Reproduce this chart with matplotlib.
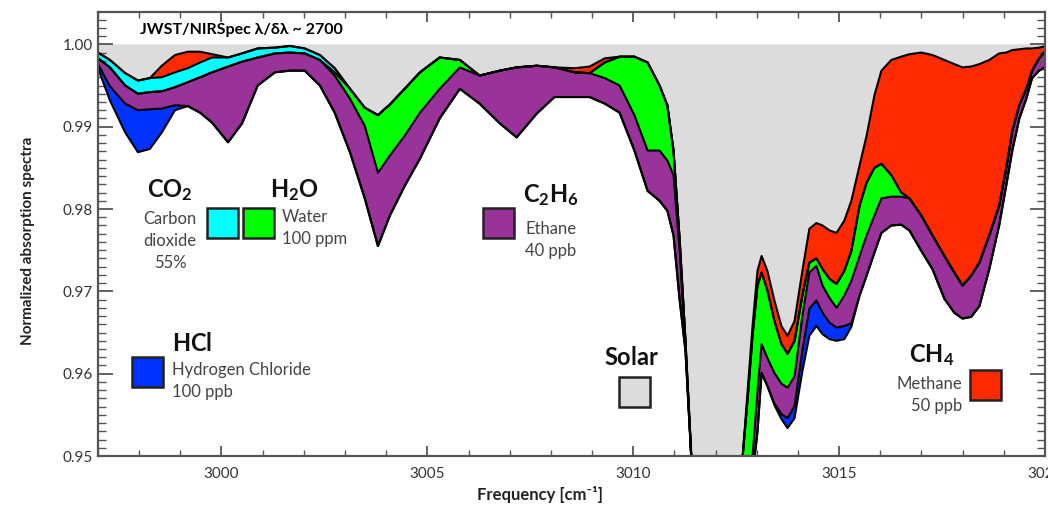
import matplotlib
matplotlib.use('Agg')
import matplotlib.pyplot as plt
from matplotlib.patches import Rectangle
from matplotlib.ticker import MultipleLocator

plt.rcParams['font.family'] = ['Lato', 'DejaVu Sans']
plt.rcParams['mathtext.fontset'] = 'custom'
plt.rcParams['mathtext.rm'] = 'Lato'
plt.rcParams['mathtext.bf'] = 'Lato:bold'

# frequency grid [cm^-1]
freq = [2997.00, 2997.29, 2997.66, 2997.97, 2998.26, 2998.55, 2998.87, 2999.18, 2999.48, 2999.77,
        3000.16, 3000.50, 3000.88, 3001.30, 3001.66, 3002.02, 3002.39, 3002.75, 3003.12, 3003.48,
        3003.80, 3004.09, 3004.45, 3004.82, 3005.30, 3005.79, 3006.27, 3006.76, 3007.17, 3007.66,
        3008.09, 3008.58, 3008.94, 3009.31, 3009.67, 3010.03, 3010.35, 3010.64, 3010.83, 3010.98,
        3011.13, 3011.27, 3011.42, 3011.61, 3012.10, 3012.53, 3012.66, 3012.78, 3012.90, 3013.02,
        3013.12, 3013.26, 3013.43, 3013.60, 3013.75, 3013.92, 3014.11, 3014.28, 3014.45, 3014.60,
        3014.77, 3014.94, 3015.13, 3015.30, 3015.50, 3015.67, 3015.86, 3016.03, 3016.27, 3016.51,
        3016.71, 3017.00, 3017.27, 3017.56, 3017.80, 3018.00, 3018.21, 3018.41, 3018.65, 3018.89,
        3019.06, 3019.21, 3019.38, 3019.55, 3019.69, 3019.86, 3020.03]

# cumulative spectrum levels (solar, then after each molecule is added)
lvl_solar = [0.9990, 0.9981, 0.9965, 0.9956, 0.9959, 0.9974, 0.9987, 0.9991, 0.9991, 0.9988,
             0.9984, 0.9989, 0.9995, 0.9996, 0.9998, 0.9995, 0.9987, 0.9971, 0.9946, 0.9923,
             0.9914, 0.9927, 0.9946, 0.9966, 0.9984, 0.9981, 0.9962, 0.9968, 0.9972, 0.9974,
             0.9972, 0.9971, 0.9973, 0.9983, 0.9985, 0.9985, 0.9978, 0.9950, 0.9926, 0.9871,
             0.9762, 0.9640, 0.9494, 0.9350, 0.9300, 0.9350, 0.9500, 0.9579, 0.9658, 0.9725,
             0.9743, 0.9725, 0.9689, 0.9658, 0.9646, 0.9664, 0.9725, 0.9776, 0.9783, 0.9780,
             0.9774, 0.9771, 0.9786, 0.9810, 0.9853, 0.9889, 0.9938, 0.9968, 0.9981, 0.9985,
             0.9988, 0.9990, 0.9987, 0.9981, 0.9976, 0.9972, 0.9973, 0.9976, 0.9981, 0.9989,
             0.9990, 0.9993, 0.9994, 0.9995, 0.9995, 0.9996, 0.9998]

lvl_ch4 = [0.9990, 0.9981, 0.9965, 0.9956, 0.9959, 0.9960, 0.9966, 0.9971, 0.9978, 0.9984,
           0.9984, 0.9989, 0.9995, 0.9996, 0.9998, 0.9995, 0.9987, 0.9971, 0.9946, 0.9923,
           0.9914, 0.9927, 0.9946, 0.9966, 0.9984, 0.9981, 0.9962, 0.9968, 0.9972, 0.9974,
           0.9972, 0.9966, 0.9965, 0.9978, 0.9985, 0.9985, 0.9978, 0.9950, 0.9926, 0.9871,
           0.9762, 0.9640, 0.9490, 0.9350, 0.9300, 0.9350, 0.9500, 0.9569, 0.9646, 0.9707,
           0.9723, 0.9701, 0.9664, 0.9636, 0.9624, 0.9640, 0.9695, 0.9735, 0.9740, 0.9727,
           0.9715, 0.9709, 0.9725, 0.9749, 0.9804, 0.9832, 0.9850, 0.9855, 0.9841, 0.9820,
           0.9813, 0.9792, 0.9768, 0.9743, 0.9723, 0.9707, 0.9719, 0.9735, 0.9768, 0.9804,
           0.9849, 0.9895, 0.9926, 0.9946, 0.9968, 0.9983, 0.9993]

lvl_co2 = [0.9983, 0.9972, 0.9950, 0.9940, 0.9942, 0.9943, 0.9948, 0.9954, 0.9960, 0.9966,
           0.9973, 0.9979, 0.9984, 0.9989, 0.9990, 0.9989, 0.9981, 0.9966, 0.9946, 0.9923,
           0.9914, 0.9927, 0.9946, 0.9966, 0.9984, 0.9981, 0.9962, 0.9968, 0.9972, 0.9974,
           0.9972, 0.9966, 0.9965, 0.9978, 0.9985, 0.9985, 0.9978, 0.9950, 0.9926, 0.9871,
           0.9762, 0.9640, 0.9490, 0.9350, 0.9300, 0.9350, 0.9500, 0.9569, 0.9646, 0.9707,
           0.9723, 0.9701, 0.9664, 0.9636, 0.9624, 0.9640, 0.9695, 0.9735, 0.9740, 0.9727,
           0.9715, 0.9709, 0.9725, 0.9749, 0.9804, 0.9832, 0.9850, 0.9855, 0.9841, 0.9820,
           0.9813, 0.9792, 0.9768, 0.9743, 0.9723, 0.9707, 0.9719, 0.9735, 0.9768, 0.9804,
           0.9849, 0.9895, 0.9926, 0.9946, 0.9968, 0.9983, 0.9993]

lvl_h2o = [0.9983, 0.9972, 0.9950, 0.9940, 0.9942, 0.9943, 0.9948, 0.9954, 0.9960, 0.9966,
           0.9973, 0.9979, 0.9984, 0.9989, 0.9990, 0.9989, 0.9981, 0.9962, 0.9934, 0.9901,
           0.9844, 0.9865, 0.9889, 0.9917, 0.9946, 0.9972, 0.9962, 0.9968, 0.9972, 0.9974,
           0.9972, 0.9966, 0.9965, 0.9959, 0.9950, 0.9914, 0.9871, 0.9871, 0.9859, 0.9841,
           0.9749, 0.9634, 0.9490, 0.9350, 0.9300, 0.9350, 0.9482, 0.9482, 0.9500, 0.9579,
           0.9636, 0.9619, 0.9601, 0.9588, 0.9583, 0.9597, 0.9670, 0.9723, 0.9731, 0.9707,
           0.9692, 0.9680, 0.9695, 0.9713, 0.9743, 0.9768, 0.9792, 0.9813, 0.9815, 0.9815,
           0.9813, 0.9792, 0.9768, 0.9743, 0.9723, 0.9707, 0.9719, 0.9735, 0.9768, 0.9804,
           0.9849, 0.9895, 0.9926, 0.9946, 0.9968, 0.9983, 0.9993]

lvl_c2h6 = [0.9976, 0.9949, 0.9928, 0.9920, 0.9921, 0.9922, 0.9926, 0.9925, 0.9917, 0.9905,
            0.9881, 0.9904, 0.9950, 0.9966, 0.9968, 0.9968, 0.9950, 0.9917, 0.9869, 0.9813,
            0.9755, 0.9792, 0.9828, 0.9861, 0.9910, 0.9946, 0.9928, 0.9904, 0.9887, 0.9916,
            0.9936, 0.9936, 0.9936, 0.9928, 0.9917, 0.9871, 0.9822, 0.9810, 0.9798, 0.9768,
            0.9689, 0.9628, 0.9490, 0.9350, 0.9300, 0.9350, 0.9470, 0.9470, 0.9476, 0.9530,
            0.9601, 0.9585, 0.9564, 0.9551, 0.9546, 0.9561, 0.9628, 0.9679, 0.9689, 0.9674,
            0.9662, 0.9656, 0.9658, 0.9661, 0.9695, 0.9719, 0.9747, 0.9771, 0.9780, 0.9781,
            0.9774, 0.9749, 0.9727, 0.9691, 0.9674, 0.9667, 0.9669, 0.9682, 0.9727, 0.9780,
            0.9828, 0.9871, 0.9910, 0.9934, 0.9959, 0.9968, 0.9973]

lvl_hcl = [0.9971, 0.9932, 0.9893, 0.9869, 0.9873, 0.9893, 0.9920, 0.9925, 0.9917, 0.9905,
           0.9881, 0.9904, 0.9950, 0.9966, 0.9968, 0.9968, 0.9950, 0.9917, 0.9869, 0.9813,
           0.9755, 0.9792, 0.9828, 0.9861, 0.9910, 0.9946, 0.9928, 0.9904, 0.9887, 0.9916,
           0.9936, 0.9936, 0.9936, 0.9928, 0.9917, 0.9871, 0.9822, 0.9810, 0.9798, 0.9768,
           0.9689, 0.9628, 0.9490, 0.9350, 0.9300, 0.9350, 0.9470, 0.9470, 0.9476, 0.9530,
           0.9601, 0.9585, 0.9562, 0.9545, 0.9534, 0.9546, 0.9603, 0.9646, 0.9658, 0.9648,
           0.9642, 0.9640, 0.9642, 0.9657, 0.9695, 0.9719, 0.9747, 0.9771, 0.9780, 0.9781,
           0.9774, 0.9749, 0.9727, 0.9691, 0.9674, 0.9667, 0.9669, 0.9682, 0.9727, 0.9780,
           0.9828, 0.9871, 0.9910, 0.9934, 0.9959, 0.9968, 0.9973]

c_solar = '#dcdcdc'
c_ch4 = '#ff2a00'
c_co2 = '#00ffff'
c_h2o = '#00ff00'
c_c2h6 = '#993399'
c_hcl = '#0033ff'

fig = plt.figure(figsize=(10.48, 5.09), dpi=100)
ax = fig.add_axes([0.0935, 0.104, 0.9035, 0.872])

# stacked absorption layers
ax.fill_between(freq, 1.0, lvl_solar, color=c_solar, lw=0)
ax.fill_between(freq, lvl_solar, lvl_ch4, color=c_ch4, lw=0)
ax.fill_between(freq, lvl_ch4, lvl_co2, color=c_co2, lw=0)
ax.fill_between(freq, lvl_co2, lvl_h2o, color=c_h2o, lw=0)
ax.fill_between(freq, lvl_h2o, lvl_c2h6, color=c_c2h6, lw=0)
ax.fill_between(freq, lvl_c2h6, lvl_hcl, color=c_hcl, lw=0)
for lvl in [lvl_solar, lvl_ch4, lvl_co2, lvl_h2o, lvl_c2h6, lvl_hcl]:
    ax.plot(freq, lvl, color='black', lw=1.5, solid_joinstyle='round')

ax.set_xlim(2997, 3020)
ax.set_ylim(0.95, 1.0039)
ax.set_xticks([3000, 3005, 3010, 3015, 3020])
ax.set_yticks([0.95, 0.96, 0.97, 0.98, 0.99, 1.00])
ax.set_yticklabels(['0.95', '0.96', '0.97', '0.98', '0.99', '1.00'])
ax.xaxis.set_minor_locator(MultipleLocator(1))
ax.yaxis.set_minor_locator(MultipleLocator(0.001))
ax.tick_params(which='both', direction='in', top=True, right=True, colors='#555555',
               labelcolor='#333333', labelsize=11)
ax.tick_params(which='major', length=11, width=1.3)
ax.tick_params(which='minor', length=6, width=1.0)
ax.tick_params(axis='x', which='both', length=4)
ax.tick_params(axis='x', which='major', length=7, pad=8)
for sp in ax.spines.values():
    sp.set_color('#555555')
    sp.set_linewidth(1.6)

ax.set_xlabel('Frequency [cm⁻¹]', fontsize=12, fontweight='bold', color='#222222', va='center')
ax.xaxis.set_label_coords(0.467, -0.086)
ax.set_ylabel('Normalized absorption spectra', fontsize=11, fontweight='bold', color='#222222')
ax.yaxis.set_label_coords(-0.066, 0.486)

ax.text(0.044, 0.959, 'JWST/NIRSpec λ/δλ ~ 2700', transform=ax.transAxes,
        fontsize=11.5, fontweight='bold', va='center', ha='left')

# legend boxes and labels
def swatch(x0, y0, color):
    ax.add_patch(Rectangle((x0, y0), 0.0327, 0.0676, transform=ax.transAxes,
                           facecolor=color, edgecolor='#222222', lw=1.8, zorder=5))

bold = dict(transform=ax.transAxes, fontsize=17, va='center', color='#111111')
desc = dict(transform=ax.transAxes, fontsize=12, va='center', color='#444444', linespacing=1.45)

swatch(0.115, 0.491, c_co2)
swatch(0.153, 0.491, c_h2o)
ax.text(0.076, 0.599, r'$\mathbf{CO_2}$', ha='center', **bold)
ax.text(0.076, 0.484, 'Carbon\ndioxide\n55%', ha='center', **desc)
ax.text(0.182, 0.599, r'$\mathbf{H_2O}$', ha='left', **bold)
ax.text(0.194, 0.514, 'Water\n100 ppm', ha='left', **desc)

swatch(0.4066, 0.491, c_c2h6)
ax.text(0.449, 0.588, r'$\mathbf{C_2H_6}$', ha='left', **bold)
ax.text(0.451, 0.486, 'Ethane\n40 ppb', ha='left', **desc)

swatch(0.0359, 0.155, c_hcl)
ax.text(0.078, 0.2545, r'$\mathbf{HCl}$', ha='left', **bold)
ax.text(0.078, 0.169, 'Hydrogen Chloride\n100 ppb', ha='left', **desc)

swatch(0.550, 0.110, c_solar)
ax.text(0.564, 0.223, r'$\mathbf{Solar}$', ha='center', **bold)

swatch(0.921, 0.126, c_ch4)
ax.text(0.857, 0.2275, r'$\mathbf{CH_4}$', ha='left', **bold)
ax.text(0.913, 0.137, 'Methane\n50 ppb', ha='right', **desc)

fig.savefig('out.png', dpi=100)
